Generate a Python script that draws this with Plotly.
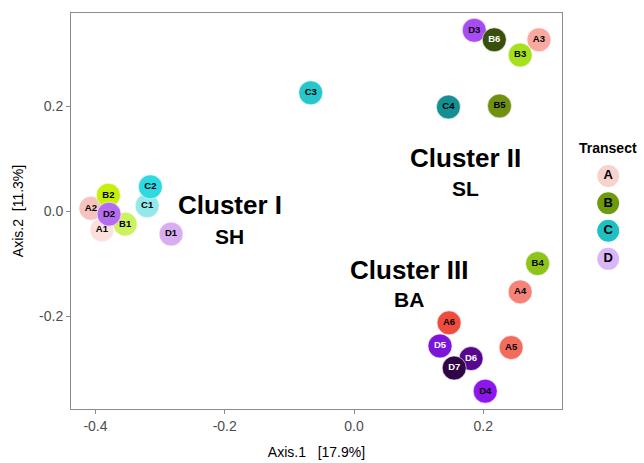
import plotly.graph_objects as go

# Sample data (PCoA coordinates), listed in drawing order
samples = ["A1", "A2", "B2", "B1", "D2", "C1", "C2", "D1", "C3", "D3", "B6", "A3", "B3",
           "C4", "B5", "B4", "A4", "D5", "A6", "A5", "D6", "D7", "D4"]
axis1 = [-0.390, -0.407, -0.380, -0.354, -0.379, -0.320, -0.315, -0.283, -0.067, 0.186, 0.217, 0.286, 0.257,
         0.146, 0.225, 0.284, 0.257, 0.133, 0.147, 0.243, 0.181, 0.155, 0.203]
axis2 = [-0.035, 0.006, 0.031, -0.024, -0.005, 0.011, 0.047, -0.043, 0.226, 0.345, 0.327, 0.327, 0.298,
         0.199, 0.201, -0.099, -0.153, -0.256, -0.212, -0.259, -0.280, -0.298, -0.342]
point_colors = ["#FBE0DE", "#F6C3BE", "#C6EF0C", "#CCF260", "#B56CF0", "#92E8EA", "#2ED9E2", "#D9ADF2",
                "#25C7CA", "#A84CF2", "#38500C", "#F9A99F", "#A5E11C",
                "#168F92", "#6F910F", "#8CC41C", "#F4847A", "#7C14DA", "#EF4C3D", "#F26C5E",
                "#55088F", "#2F0548", "#8C16EC"]
text_colors = ["black", "black", "black", "black", "black", "black", "black", "black",
               "black", "black", "white", "black", "black",
               "black", "black", "black", "black", "white", "black", "black",
               "white", "white", "black"]

# Legend
transects = ["A", "B", "C", "D"]
transect_colors = ["#F9D2CE", "#6E9A0E", "#1FC0C2", "#D9B6F8"]
legend_index = [0, 1, 2, 3.03]

# Cluster annotations
cluster_names = ["Cluster I", "Cluster II", "Cluster III"]
cluster_sub = ["SH", "SL", "BA"]
cluster_x = [-0.192, 0.172, 0.085]
cluster_y = [0.012, 0.102, -0.111]
cluster_sub_y = [-0.047, 0.043, -0.167]

FONT = "Liberation Sans, Arial, sans-serif"

fig = go.Figure()
fig.add_trace(go.Scatter(
    x=axis1, y=axis2, mode="markers+text", text=samples,
    textposition="middle center",
    textfont=dict(family=FONT, size=9.5, color=text_colors, weight="bold"),
    marker=dict(size=24, color=point_colors, line=dict(width=0.6, color="white")),
    showlegend=False, hoverinfo="text", cliponaxis=False,
))

fig.add_trace(go.Scatter(
    x=[0] * len(transects), y=legend_index, mode="markers+text", text=transects,
    textposition="middle center",
    textfont=dict(family=FONT, size=13, color="black", weight="bold"),
    marker=dict(size=22, color=transect_colors),
    xaxis="x2", yaxis="y2", showlegend=False, hoverinfo="text", cliponaxis=False,
))

annotations = []
for n, s, x, y, ys in zip(cluster_names, cluster_sub, cluster_x, cluster_y, cluster_sub_y):
    annotations.append(dict(x=x, y=y, xref="x", yref="y", text=n, showarrow=False,
                            font=dict(family=FONT, size=26, color="black", weight="bold")))
    annotations.append(dict(x=x, y=ys, xref="x", yref="y", text=s, showarrow=False,
                            font=dict(family=FONT, size=21, color="black", weight="bold")))
annotations.append(dict(x=0, y=-1.03, xref="x2", yref="y2", text="Transect", showarrow=False,
                        font=dict(family=FONT, size=14, color="black", weight="bold")))

axis_common = dict(showgrid=False, zeroline=False, showline=True, mirror=True,
                   linecolor="#8c8c8c", linewidth=1, ticks="outside", ticklen=4,
                   tickcolor="#8c8c8c", tickfont=dict(family=FONT, size=14, color="#4d4d4d"))

fig.update_layout(
    width=644, height=463,
    margin=dict(l=71, r=0, t=13, b=54),
    paper_bgcolor="white", plot_bgcolor="white",
    font=dict(family=FONT),
    xaxis=dict(domain=[0, 491 / 573], range=[-0.4378, 0.3217],
               tickvals=[-0.4, -0.2, 0.0, 0.2], ticktext=["-0.4", "-0.2", "0.0", "0.2"],
               title=dict(text="Axis.1   [17.9%]", font=dict(family=FONT, size=14, color="black"), standoff=14),
               **axis_common),
    yaxis=dict(range=[-0.376, 0.378],
               tickvals=[-0.2, 0.0, 0.2], ticktext=["-0.2", "0.0", "0.2"],
               title=dict(text="Axis.2  [11.3%]", font=dict(family=FONT, size=14, color="black"), standoff=12),
               **axis_common),
    xaxis2=dict(domain=[0.875, 1.0], range=[-1, 1], visible=False, fixedrange=True),
    yaxis2=dict(domain=[0, 1], range=[8.52, -5.96], visible=False, fixedrange=True, anchor="x2"),
    annotations=annotations,
    showlegend=False,
)

fig.write_html("out.html", config={"displayModeBar": False},
               post_script="document.body.style.margin='0';")
